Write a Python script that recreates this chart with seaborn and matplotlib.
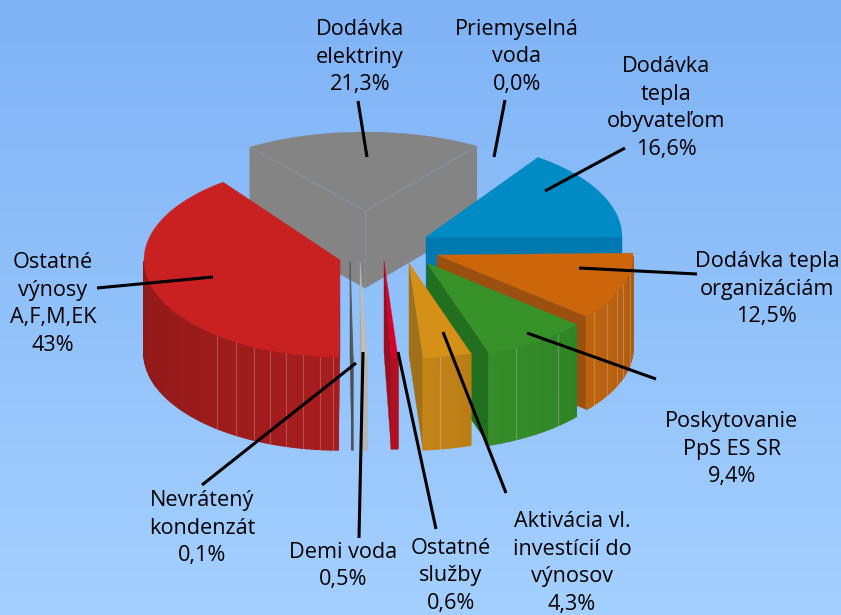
"""
3D exploded pie chart: revenue shares, drawn with seaborn styling on matplotlib axes.
"""

import matplotlib.pyplot as plt
import numpy as np
import seaborn as sns

# slice data, clockwise from the 3 o'clock position
names = ["Dodávka tepla\norganizáciám", "Poskytovanie\nPpS ES SR",
         "Aktivácia vl.\ninvestícií do\nvýnosov", "Ostatné\nslužby",
         "Demi voda", "Nevrátený\nkondenzát", "Ostatné\nvýnosy\nA,F,M,EK",
         "Dodávka\nelektriny", "Priemyselná\nvoda", "Dodávka\ntepla\nobyvateľom"]
values = [12.5, 9.4, 4.3, 0.6, 0.5, 0.1, 43, 21.3, 0.0, 16.6]
value_labels = ["12,5%", "9,4%", "4,3%", "0,6%", "0,5%", "0,1%", "43%",
                "21,3%", "0,0%", "16,6%"]

# geometry of each exploded slice, in picture pixels
apex_x = [437, 427, 409, 384, 360, 350, 340, 365, 365, 426]
apex_y = [255, 263, 263, 261, 262, 262, 260, 211, 211, 237]
semi_y = [95, 95, 95, 97, 95, 95, 97, 79, 79, 97]
depth = [93, 92, 92, 91, 93, 93, 93, 77, 77, 92]
nudge = [0, 0, 0, 0, 0, 0.4, -0.6, -1.2, 0, -1.2]
semi_x = 196
ROTATION = 1.2

# colours: top face, radial face, rim start, rim end
top_cols = ["#CB660B", "#38922A", "#D49017", "#D8002A", "#BDBDBD", "#5A5A5A",
            "#C92122", "#848484", "#848484", "#008BC4"]
face_cols = ["#9C500F", "#226F20", "#A0701A", "#98101F", "#A8A8A8", "#4A4A4A",
             "#A71D1E", "#848484", "#848484", "#0079B0"]
rim_a = ["#AD5B10", "#2F8526", "#BB7E16", "#B0101F", "#B5B5B5", "#505050",
         "#A71D1E", "#848484", "#848484", "#0079B0"]
rim_b = ["#BE6410", "#378C2A", "#C48518", "#B0101F", "#B5B5B5", "#505050",
         "#8F1A18", "#848484", "#848484", "#0079B0"]

# rim seams in degrees, per slice
ridges = [[-10, -18, -23, -30, -37], [-48, -63], [-81], [], [], [],
          [-92, -96, -101, -106, -111, -116, -122, -129], [], [], []]

# label placement and leader lines
label_x = [767, 732, 572, 451, 343, 202, 53, 360, 517, 666]
label_y = [287, 447, 561, 574, 564, 526, 302, 55, 55, 106]
line_from_x = [579, 527, 443, 398, 363, 356, 213, 367, 494, 545]
line_from_y = [268, 333, 332, 352, 352, 363, 277, 157, 157, 191]
line_to_x = [697, 656, 506, 436, 359, 202, 97, 358, 505, 625]
line_to_y = [274, 379, 493, 529, 538, 485, 288, 101, 100, 148]

BG_TOP = "#7FB3F6"
BG_BOTTOM = "#A4D0FF"


def rim_points(i, theta):
    """Points on the top rim of slice i for angles in degrees."""
    rad = np.radians(theta)
    return (apex_x[i] + semi_x * np.cos(rad),
            apex_y[i] - semi_y[i] * np.sin(rad))


def radial_face(ax, i, theta, z):
    """Flat side of a slice running from the apex to the rim."""
    x, y = rim_points(i, theta)
    ax.fill([apex_x[i], x, x, apex_x[i]],
            [apex_y[i], y, y + depth[i], apex_y[i] + depth[i]],
            color=face_cols[i], lw=0.3, zorder=z)


def draw_slice(ax, i, lo, hi, z):
    """Draw one extruded slice between angles lo and hi."""
    # radial faces that turn towards the viewer
    if np.cos(np.radians(lo)) > 0:
        radial_face(ax, i, lo, z)
    if np.cos(np.radians(hi)) < 0:
        radial_face(ax, i, hi, z)

    # rim, only where it faces the viewer
    steps = np.linspace(lo, hi, max(int(hi - lo) + 2, 3))
    steps = steps[np.sin(np.radians(steps)) <= 0.001]
    if len(steps) > 1:
        shades = sns.blend_palette([rim_b[i], rim_a[i]], len(steps) - 1)
        for k in range(len(steps) - 1):
            x, y = rim_points(i, steps[k:k + 2])
            ax.fill([x[0], x[1], x[1], x[0]],
                    [y[0], y[1], y[1] + depth[i], y[0] + depth[i]],
                    color=shades[k], lw=1.0, zorder=z + 0.1)

    for theta in ridges[i]:
        x, y = rim_points(i, theta)
        ax.plot([x, x], [y, y + depth[i]], color="white", alpha=0.22, lw=0.8,
                zorder=z + 0.2)

    # top face
    theta = np.linspace(lo, hi, 120)
    x, y = rim_points(i, theta)
    ax.fill(np.r_[apex_x[i], x], np.r_[apex_y[i], y], color=top_cols[i],
            lw=0.8 if values[i] < 0.2 else 0.2, zorder=z + 0.3)


def main():
    sns.set_theme(style="white")
    plt.rcParams["font.family"] = ["Open Sans", "DejaVu Sans"]

    fig = plt.figure(figsize=(8.41, 6.15), dpi=100)
    ax = fig.add_axes([0, 0, 1, 1])
    ax.set_xlim(0, 841)
    ax.set_ylim(615, 0)
    ax.axis("off")

    # background gradient
    shades = np.array(sns.blend_palette([BG_TOP, BG_BOTTOM], 256))
    ax.imshow(shades[:, None, :], extent=(0, 841, 615, 0), aspect="auto",
              zorder=0)

    # slice angles from the values
    shares = np.array(values) / np.sum(values) * 360
    ends = -np.cumsum(shares) + ROTATION
    starts = ends + shares

    # painted from the back of the pie to the front
    order = [7, 9, 6, 0, 1, 2, 5, 4, 3]
    for z, i in enumerate(order):
        draw_slice(ax, i, ends[i] + nudge[i], starts[i] + nudge[i], 2 + z)

    # faint edges on the grey slice
    i = 7
    x, y = rim_points(i, np.array([ends[i], starts[i]]) + nudge[i])
    for px, py in zip(x, y):
        ax.plot([px, apex_x[i]], [py, apex_y[i]], color="#7F9CC0", lw=0.6,
                alpha=0.5, zorder=2.5)
    ax.plot([apex_x[i]] * 2, [apex_y[i], apex_y[i] + depth[i]],
            color="#7F9CC0", lw=0.6, alpha=0.5, zorder=2.5)

    for i in range(len(names)):
        ax.plot([line_from_x[i], line_to_x[i]], [line_from_y[i], line_to_y[i]],
                color="black", lw=2.2, solid_capstyle="butt", zorder=20)
        ax.text(label_x[i], label_y[i] + 2, names[i] + "\n" + value_labels[i],
                ha="center", va="center", multialignment="center",
                fontsize=15.6, color="black", linespacing=1.41, zorder=21)

    fig.savefig("out.png", dpi=100)
    plt.close(fig)


if __name__ == "__main__":
    main()
